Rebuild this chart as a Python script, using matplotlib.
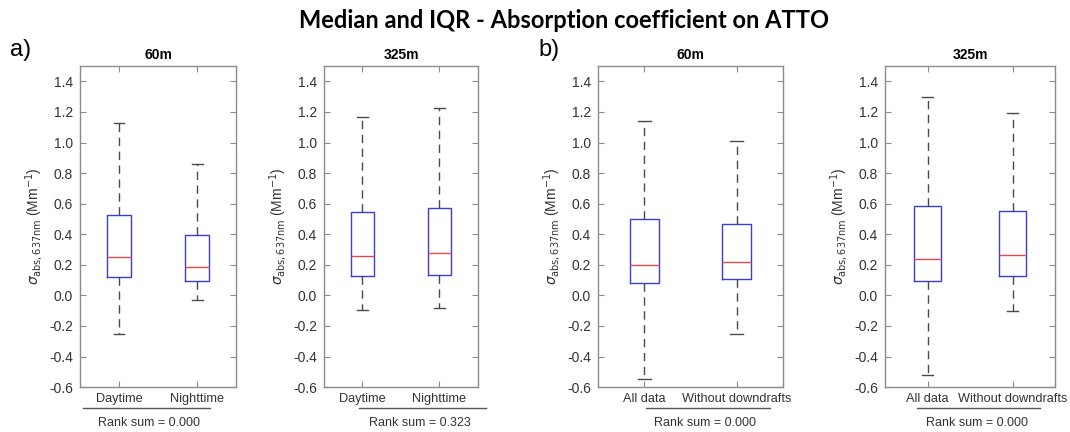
import matplotlib
matplotlib.use("Agg")
import matplotlib.pyplot as plt

plt.rcParams["font.family"] = ["Liberation Sans", "DejaVu Sans"]

# box statistics: low whisker, q1, median, q3, high whisker
panel_titles = ["60m", "325m", "60m", "325m"]
panel_labels = [["Daytime", "Nighttime"], ["Daytime", "Nighttime"],
                ["All data", "Without downdrafts"], ["All data", "Without downdrafts"]]
rank_sums = ["0.000", "0.323", "0.000", "0.000"]

whislo = [[-0.25, -0.03], [-0.095, -0.085], [-0.545, -0.255], [-0.52, -0.10]]
q1 = [[0.121, 0.095], [0.125, 0.134], [0.084, 0.105], [0.097, 0.128]]
med = [[0.248, 0.187], [0.255, 0.277], [0.196, 0.218], [0.235, 0.262]]
q3 = [[0.527, 0.398], [0.543, 0.571], [0.50, 0.467], [0.582, 0.554]]
whishi = [[1.125, 0.86], [1.167, 1.227], [1.14, 1.01], [1.30, 1.19]]

yticks = [-0.6, -0.4, -0.2, 0.0, 0.2, 0.4, 0.6, 0.8, 1.0, 1.2, 1.4]

# axes rectangles in figure fraction (left, bottom, width, height)
rects = [(0.0748, 0.104, 0.1458, 0.743),
         (0.3028, 0.104, 0.1439, 0.743),
         (0.5589, 0.104, 0.1729, 0.743),
         (0.8271, 0.104, 0.1589, 0.743)]
# rank-sum underline span and text centre, in axes fraction
rank_line = [(0.02, 0.83), (0.23, 1.05), (0.26, 0.93), (0.19, 0.91)]
rank_text_x = [0.44, 0.62, 0.58, 0.54]

spine_col = "#8c8c8c"
text_col = "#333333"

fig = plt.figure(figsize=(10.7, 4.32), dpi=100)

for k in range(4):
    ax = fig.add_axes(rects[k])
    stats = []
    for j in range(2):
        stats.append(dict(whislo=whislo[k][j], q1=q1[k][j], med=med[k][j],
                          q3=q3[k][j], whishi=whishi[k][j], fliers=[]))
    ax.bxp(stats, positions=[1, 2], widths=0.31, showfliers=False,
           boxprops=dict(color="#3c3cdc", linewidth=1.0),
           medianprops=dict(color="#e8484c", linewidth=1.0),
           whiskerprops=dict(color="#4a4a4a", linewidth=1.0, linestyle=(0, (6, 4))),
           capprops=dict(color="#4a4a4a", linewidth=1.0),
           capwidths=0.14)
    ax.set_xlim(0.5, 2.5)
    ax.set_ylim(-0.6, 1.5)
    ax.set_yticks(yticks)
    ax.set_yticklabels(["%.1f" % v for v in yticks])
    ax.set_xticks([1, 2])
    ax.set_xticklabels(panel_labels[k])
    ax.tick_params(direction="in", length=4, width=0.8, color=spine_col,
                   labelsize=10, labelcolor=text_col, top=True, right=True, pad=5)
    ax.tick_params(axis="x", labelsize=9.2, pad=4)
    for s in ax.spines.values():
        s.set_color(spine_col)
        s.set_linewidth(1.0)
    ax.set_title(panel_titles[k], fontsize=10, fontweight="bold", color="black", pad=5)
    ax.set_ylabel(r"$\sigma_{\mathrm{abs,637nm}}$ (Mm$^{-1}$)", fontsize=10,
                  color=text_col, labelpad=3)
    # rank sum annotation under the tick labels
    ax.plot(rank_line[k], [-0.066, -0.066], transform=ax.transAxes,
            color="#555555", linewidth=1.0, clip_on=False)
    ax.text(rank_text_x[k], -0.112, "Rank sum = " + rank_sums[k],
            transform=ax.transAxes, ha="center", va="center",
            fontsize=9, color=text_col)

fig.text(0.527, 0.953, "Median and IQR - Absorption coefficient on ATTO",
         ha="center", va="center", fontsize=17, fontweight="bold",
         family=["Lato", "DejaVu Sans"])
fig.text(0.009, 0.885, "a)", fontsize=17, ha="left", va="center")
fig.text(0.503, 0.885, "b)", fontsize=17, ha="left", va="center")

fig.savefig("out.png", dpi=100)
